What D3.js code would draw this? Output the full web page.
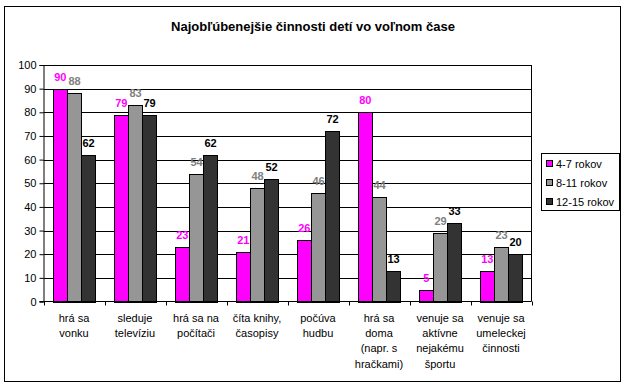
<!DOCTYPE html>
<html>
<head>
<meta charset="utf-8">
<script src="https://cdn.jsdelivr.net/npm/d3@7"></script>
<style>
  body { margin: 0; background: #fff; }
  svg { font-family: Arial, "Liberation Sans", sans-serif; }
</style>
</head>
<body>
<svg width="625" height="388"></svg>
<script>
const categories = [
  ['hrá sa', 'vonku'],
  ['sleduje', 'televíziu'],
  ['hrá sa na', 'počítači'],
  ['číta knihy,', 'časopisy'],
  ['počúva', 'hudbu'],
  ['hrá sa', 'doma', '(napr. s', 'hračkami)'],
  ['venuje sa', 'aktívne', 'nejakému', 'športu'],
  ['venuje sa', 'umeleckej', 'činnosti']
];
const seriesNames = ['4-7 rokov', '8-11 rokov', '12-15 rokov'];
const age4to7 = [90, 79, 23, 21, 26, 80, 5, 13];
const age8to11 = [88, 83, 54, 48, 46, 44, 29, 23];
const age12to15 = [62, 79, 62, 52, 72, 13, 33, 20];
const yTicks = [0, 10, 20, 30, 40, 50, 60, 70, 80, 90, 100];

const series = [age4to7, age8to11, age12to15];
const fills = ['#ff00ff', '#969696', '#333333'];
const labelColors = ['#ff00ff', '#808080', '#000000'];

const svg = d3.select('svg');

// outer frame
svg.append('rect')
  .attr('x', 4.5).attr('y', 6.5)
  .attr('width', 616).attr('height', 375)
  .attr('fill', '#fff').attr('stroke', '#000');

svg.append('text')
  .attr('x', 313).attr('y', 31)
  .attr('text-anchor', 'middle')
  .attr('font-size', 13).attr('font-weight', 'bold')
  .text('Najobľúbenejšie činnosti detí vo voľnom čase');

const plotLeft = 43.5, plotRight = 531.5, plotTop = 65, plotBottom = 301.5;

const x = d3.scaleBand().domain(d3.range(categories.length)).range([plotLeft, plotRight]);
const xs = d3.scaleBand().domain(d3.range(series.length))
  .range([0, x.bandwidth()]).paddingInner(0).paddingOuter(0.66);
const y = d3.scaleLinear().domain([0, 100]).range([plotBottom, plotTop]);

// gridlines
svg.append('g').selectAll('line').data(yTicks.slice(1)).join('line')
  .attr('x1', plotLeft).attr('x2', plotRight)
  .attr('y1', d => Math.round(y(d)) + 0.5).attr('y2', d => Math.round(y(d)) + 0.5)
  .attr('stroke', '#000');

// plot right border
svg.append('line')
  .attr('x1', plotRight).attr('x2', plotRight).attr('y1', plotTop).attr('y2', plotBottom)
  .attr('stroke', '#000');

// bars
const barLayer = svg.append('g');
const labelLayer = svg.append('g');
series.forEach((vals, s) => {
  barLayer.append('g').selectAll('rect').data(vals).join('rect')
    .attr('x', (d, i) => Math.round(x(i) + xs(s)) + 0.5)
    .attr('y', d => Math.round(y(d)) + 0.5)
    .attr('width', Math.round(xs.bandwidth()))
    .attr('height', d => Math.round(y(0)) - Math.round(y(d)))
    .attr('fill', fills[s]).attr('stroke', '#000');
  labelLayer.append('g').selectAll('text').data(vals).join('text')
    .attr('x', (d, i) => x(i) + xs(s) + xs.bandwidth() / 2 + 0.5)
    .attr('y', d => y(d) - 8)
    .attr('text-anchor', 'middle')
    .attr('font-size', 11).attr('font-weight', 'bold')
    .attr('fill', labelColors[s])
    .text(d => d);
});

// y axis
const yAxis = svg.append('g')
  .attr('transform', `translate(${plotLeft},0)`)
  .call(d3.axisLeft(y).tickValues(yTicks).tickSize(4).tickPadding(3));
yAxis.select('.domain').attr('stroke', '#000');
yAxis.selectAll('text').attr('font-size', 11).attr('fill', '#000')
  .attr('font-family', 'Arial, "Liberation Sans", sans-serif');

// x axis
svg.append('line')
  .attr('x1', plotLeft - 4).attr('x2', plotRight).attr('y1', plotBottom).attr('y2', plotBottom)
  .attr('stroke', '#000');
svg.append('g').selectAll('line').data(d3.range(categories.length + 1)).join('line')
  .attr('x1', i => Math.round(plotLeft + i * x.step()) + 0.5)
  .attr('x2', i => Math.round(plotLeft + i * x.step()) + 0.5)
  .attr('y1', plotBottom).attr('y2', plotBottom + 4)
  .attr('stroke', '#000');

const xl = svg.append('g').selectAll('text').data(categories).join('text')
  .attr('x', (d, i) => x(i) + x.bandwidth() / 2)
  .attr('y', 322)
  .attr('text-anchor', 'middle')
  .attr('font-size', 11);
xl.selectAll('tspan').data(d => d).join('tspan')
  .attr('x', function () { return this.parentNode.getAttribute('x'); })
  .attr('dy', (d, i) => i === 0 ? 0 : 15.2)
  .text(d => d);

// legend
svg.append('rect')
  .attr('x', 541.5).attr('y', 153.5).attr('width', 78).attr('height', 57)
  .attr('fill', '#fff').attr('stroke', '#000');
const lg = svg.append('g').selectAll('g').data(seriesNames).join('g')
  .attr('transform', (d, i) => `translate(546,${164 + i * 19})`);
lg.append('rect')
  .attr('x', 0.5).attr('y', -3.5).attr('width', 6).attr('height', 6)
  .attr('fill', (d, i) => fills[i]).attr('stroke', '#000');
lg.append('text')
  .attr('x', 10).attr('y', 4)
  .attr('font-size', 11)
  .text(d => d);
</script>
</body>
</html>
